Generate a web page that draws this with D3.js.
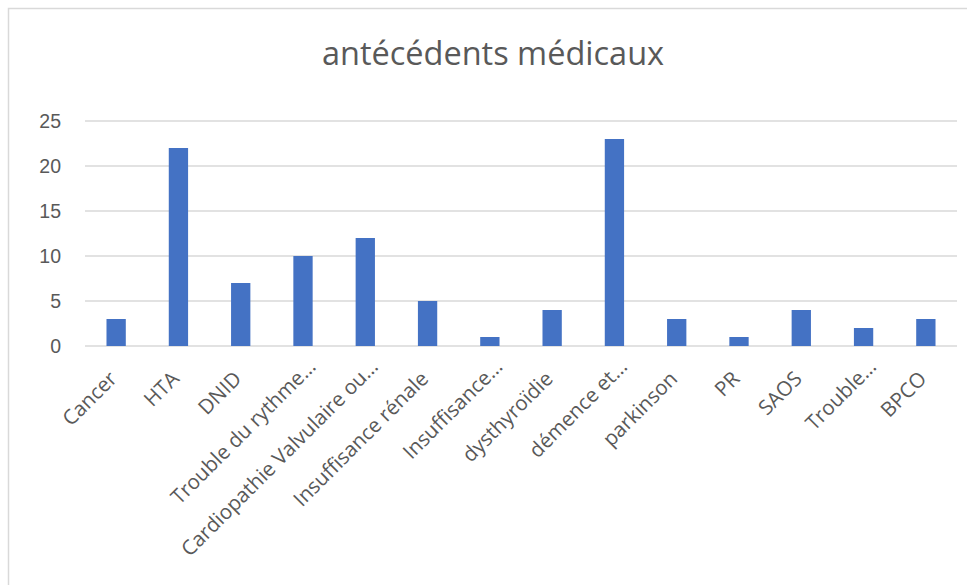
<!DOCTYPE html>
<html>
<head>
<meta charset="utf-8">
<script src="https://cdn.jsdelivr.net/npm/d3@7"></script>
<style>
  html, body { margin: 0; padding: 0; background: #fff; }
  svg { display: block; font-family: "Open Sans", "Noto Sans", sans-serif; }
</style>
</head>
<body>
<div id="chart"></div>
<script>
const titre = "antécédents médicaux";
const categories = ["Cancer", "HTA", "DNID", "Trouble du rythme…", "Cardiopathie Valvulaire ou…",
  "Insuffisance rénale", "Insuffisance…", "dysthyroïdie", "démence et…", "parkinson",
  "PR", "SAOS", "Trouble…", "BPCO"];
const valeurs = [3, 22, 7, 10, 12, 5, 1, 4, 23, 3, 1, 4, 2, 3];
const yTicks = [0, 5, 10, 15, 20, 25];

const width = 967, height = 585;
const marge = { left: 85, right: 10, top: 121, bottom: 239 };
const couleurBarre = "#4472c4";
const couleurGrille = "#d9d9d9";
const couleurTexte = "#595959";

const svg = d3.select("#chart").append("svg")
  .attr("width", width).attr("height", height);

// cadre du graphique (bords droit et bas hors image)
svg.append("rect")
  .attr("x", 8.5).attr("y", 8.5)
  .attr("width", width + 20).attr("height", height + 20)
  .attr("fill", "#fff").attr("stroke", couleurGrille).attr("stroke-width", 1.5);

const x = d3.scaleBand()
  .domain(categories)
  .range([marge.left, width - marge.right])
  .paddingInner(0.69)
  .paddingOuter(0.345);

const y = d3.scaleLinear()
  .domain([0, 25])
  .range([height - marge.bottom, marge.top]);

// grille
svg.append("g")
  .selectAll("line").data(yTicks).enter().append("line")
  .attr("x1", marge.left).attr("x2", width - marge.right)
  .attr("y1", d => y(d)).attr("y2", d => y(d))
  .attr("stroke", couleurGrille).attr("stroke-width", 1.5);

// axe Y
const axeY = svg.append("g")
  .attr("transform", `translate(${marge.left - 24},0)`)
  .call(d3.axisLeft(y).tickValues(yTicks).tickSize(0).tickPadding(0));
axeY.select(".domain").remove();
axeY.selectAll("text")
  .attr("fill", couleurTexte).style("font-size", "19.5px")
  .attr("dy", "0.35em");

// barres
svg.append("g")
  .selectAll("rect").data(valeurs).enter().append("rect")
  .attr("x", (d, i) => x(categories[i]))
  .attr("y", d => y(d))
  .attr("width", x.bandwidth())
  .attr("height", d => y(0) - y(d))
  .attr("fill", couleurBarre);

// étiquettes X inclinées
svg.append("g")
  .selectAll("text").data(categories).enter().append("text")
  .attr("transform", d => `translate(${x(d) + x.bandwidth() / 2 + 2},${y(0) + 34}) rotate(-45)`)
  .attr("x", d => d.endsWith("…") ? 17 : 0)
  .attr("text-anchor", "end")
  .attr("fill", couleurTexte)
  .style("font-size", "20.5px")
  .text(d => d);

// titre
svg.append("text")
  .attr("x", 493).attr("y", 65)
  .attr("text-anchor", "middle")
  .attr("fill", couleurTexte)
  .style("font-size", "32.5px")
  .text(titre);
</script>
</body>
</html>
